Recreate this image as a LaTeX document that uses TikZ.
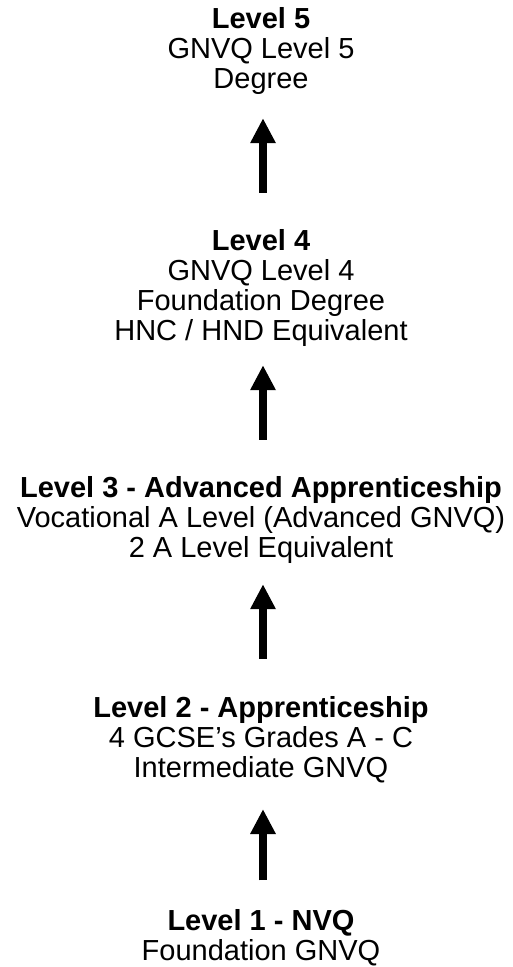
\documentclass[tikz,border=0pt]{standalone}
\usepackage{fontspec}
\setmainfont{Liberation Sans}
\usetikzlibrary{arrows.meta}
\tikzset{
  level/.style={align=center, anchor=base, inner sep=0pt,
    font=\fontsize{29}{30}\selectfont},
  lift/.style={line width=8pt,
    -{Triangle[width=24pt,length=25pt]}}
}

\begin{document}
\begin{tikzpicture}[x=1pt,y=1pt]
\useasboundingbox (0,0) rectangle (512,-967);
% qualification levels, top to bottom (placed by last baseline)
\node[level] (lv5) at (261,-88) {\textbf{Level 5}\\GNVQ Level 5\\Degree};
\node[level] (lv4) at (261,-340) {\textbf{Level 4}\\GNVQ Level 4\\Foundation Degree\\HNC / HND Equivalent};
\node[level] (lv3) at (261,-557) {\textbf{Level 3 - Advanced Apprenticeship}\\Vocational A Level (Advanced GNVQ)\\2 A Level Equivalent};
\node[level] (lv2) at (261,-777) {\textbf{Level 2 - Apprenticeship}\\4 GCSE's Grades A - C\\Intermediate GNVQ};
\node[level] (lv1) at (261,-960) {\textbf{Level 1 - NVQ}\\Foundation GNVQ};
% progression arrows
\draw[lift, shorten <=36pt, shorten >=24pt] ([xshift=2pt]lv4.north) -- ([xshift=2pt]lv5.south);
\draw[lift, shorten <=36pt, shorten >=19pt] ([xshift=2pt]lv3.north) -- ([xshift=2pt]lv4.south);
\draw[lift, shorten <=37pt, shorten >=21pt] ([xshift=2pt]lv2.north) -- ([xshift=2pt]lv3.south);
\draw[lift, shorten <=28.5pt, shorten >=26.4pt] ([xshift=2pt]lv1.north) -- ([xshift=2pt]lv2.south);
\end{tikzpicture}
\end{document}
